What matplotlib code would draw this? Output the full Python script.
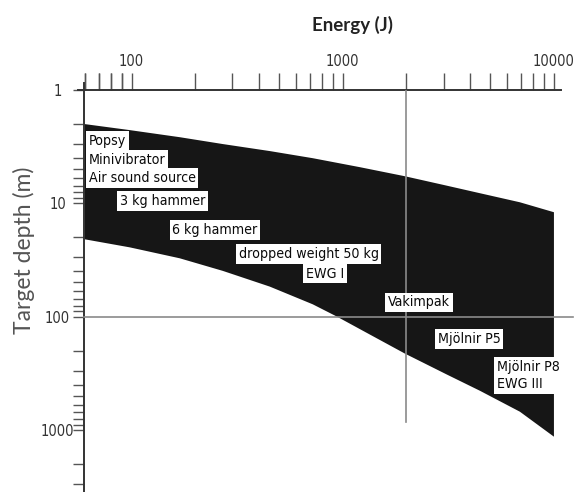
import os
import numpy as np
import matplotlib
matplotlib.use("Agg")
import matplotlib.pyplot as plt
from matplotlib import font_manager as fm
from matplotlib.ticker import FixedLocator, NullFormatter

# ---------------- data ----------------
energy_upper = [60, 98, 169, 270, 451, 721, 1204, 1966, 3044, 4460, 6898, 10000]
depth_upper = [2.0, 2.26, 2.61, 3.0, 3.46, 4.0, 4.8, 5.77, 6.93, 8.15, 9.8, 12.0]
energy_lower = [60, 98, 169, 270, 451, 721, 937, 1342, 1966, 3110, 4460, 6898, 10000]
depth_lower = [20.8, 24.5, 30.6, 39.5, 54.4, 78, 100, 144, 212, 325, 452, 692, 1150]

x_major = [100, 1000, 10000]
x_major_labels = ["100", "1000", "10000"]
y_major = [1, 10, 100, 1000]
y_major_labels = ["1", "10", "100", "1000"]

source_labels = ["Popsy", "Minivibrator", "Air sound source", "3 kg hammer",
                 "6 kg hammer", "dropped weight 50 kg", "EWG I", "Vakimpak",
                 "Mjölnir P5", "Mjölnir P8\nEWG III"]
label_energy = [62.5, 62.5, 62.5, 87.7, 156, 321, 668, 1634, 2820, 5370]
label_depth = [2.83, 4.17, 6.0, 9.6, 17.3, 28.2, 41.7, 75, 157, 331]

ref_energy = 2000
ref_depth = 100

# ---------------- fonts ----------------
def find_narrow():
    best = None
    for f in fm.fontManager.ttflist:
        key = (f.name + " " + os.path.basename(f.fname)).lower()
        if not ("narrow" in key or "condensed" in key or str(f.stretch) in ("condensed", "semi-condensed")):
            continue
        if any(w in key for w in ("bold", "italic", "oblique", "light", "semi",
                                  "extra", "thin", "black", "medium")):
            continue
        score = 5 if "liberation" in key else 4 if "dejavu" in key else \
            3 if "roboto" in key else 2 if "noto" in key else 1
        if best is None or score > best[0]:
            best = (score, f.fname)
    return best[1] if best else None

names = {f.name for f in fm.fontManager.ttflist}
nf = find_narrow()
if nf:
    def narrow_fp(size):
        return fm.FontProperties(fname=nf, size=size)
else:
    fam = "Liberation Sans" if "Liberation Sans" in names else "DejaVu Sans"
    def narrow_fp(size):
        return fm.FontProperties(family=fam, size=size)
sans = "Lato" if "Lato" in names else "DejaVu Sans"

W, H = 580, 492
fig = plt.figure(figsize=(W / 100, H / 100), dpi=100)
left, right, top = 84, 561, 90
ax = fig.add_axes([left / W, 0, (right - left) / W, (H - top) / H])

ax.set_xscale("log")
ax.set_yscale("log")
ax.set_xlim(59.5, 10800)
ax.set_ylim(3540, 1)

# band
bx = list(energy_upper) + list(energy_lower[::-1])
by = list(depth_upper) + list(depth_lower[::-1])
ax.fill(bx, by, color="#161616", lw=0, zorder=2)

# reference lines
ax.plot([ref_energy, ref_energy], [1, 850], color="#8a8a8a", lw=1.2, zorder=3)
ax.plot([59.5, 12300], [ref_depth, ref_depth], color="#8a8a8a", lw=1.2,
        zorder=3, clip_on=False)

# source labels
for txt, e, d in zip(source_labels, label_energy, label_depth):
    ax.text(e, d, txt, ha="left", va="center", fontproperties=narrow_fp(10.2),
            color="#0a0a0a", zorder=4, linespacing=1.3,
            bbox=dict(boxstyle="square,pad=0.2", fc="white", ec="none"))

# spines
for s in ["right", "bottom"]:
    ax.spines[s].set_visible(False)
for s in ["left", "top"]:
    ax.spines[s].set_color("#333333")
    ax.spines[s].set_linewidth(1.4)
# small overshoot of the axis lines at the corner (as in the scanned figure)
ax.plot([-6 / 477, 0], [1, 1], transform=ax.transAxes, color="#333333",
        lw=1.4, clip_on=False)
ax.plot([0, 0], [1, 1 + 7 / 402], transform=ax.transAxes, color="#333333",
        lw=1.4, clip_on=False)

# x ticks on top
ax.xaxis.tick_top()
ax.xaxis.set_major_locator(FixedLocator(x_major))
ax.set_xticklabels(x_major_labels)
xminor = [m * 10 ** k for k in range(1, 5) for m in range(2, 10)] + [60, 70, 80, 90]
ax.xaxis.set_minor_locator(FixedLocator([v for v in xminor if 59.5 < v < 10800]))
ax.xaxis.set_minor_formatter(NullFormatter())
ax.tick_params(axis="x", which="both", direction="out", length=12, width=1.0,
               color="#555555", pad=3, labelcolor="#333333")

# y ticks on left
ax.yaxis.set_major_locator(FixedLocator(y_major))
ax.set_yticklabels(y_major_labels)
yminor = [m * 10 ** k for k in range(0, 4) for m in range(2, 10)]
ax.yaxis.set_minor_locator(FixedLocator(yminor))
ax.yaxis.set_minor_formatter(NullFormatter())
ax.tick_params(axis="y", which="both", direction="out", length=8, width=1.0,
               color="#555555", pad=11, labelcolor="#333333")
for lab in ax.get_xticklabels() + ax.get_yticklabels():
    lab.set_fontproperties(narrow_fp(10.5))
for lab in ax.get_yticklabels():
    lab.set_horizontalalignment("center")

# titles
fig.text(352 / W, 1 - 25 / H, "Energy (J)", ha="center", va="center",
         fontsize=13.5, fontweight="bold", family=sans, color="#222222")
fig.text(24 / W, 1 - 250 / H, "Target depth (m)", ha="center", va="center",
         rotation=90, fontsize=16.5, family=sans, color="#555555")

fig.savefig("out.png", dpi=100)
